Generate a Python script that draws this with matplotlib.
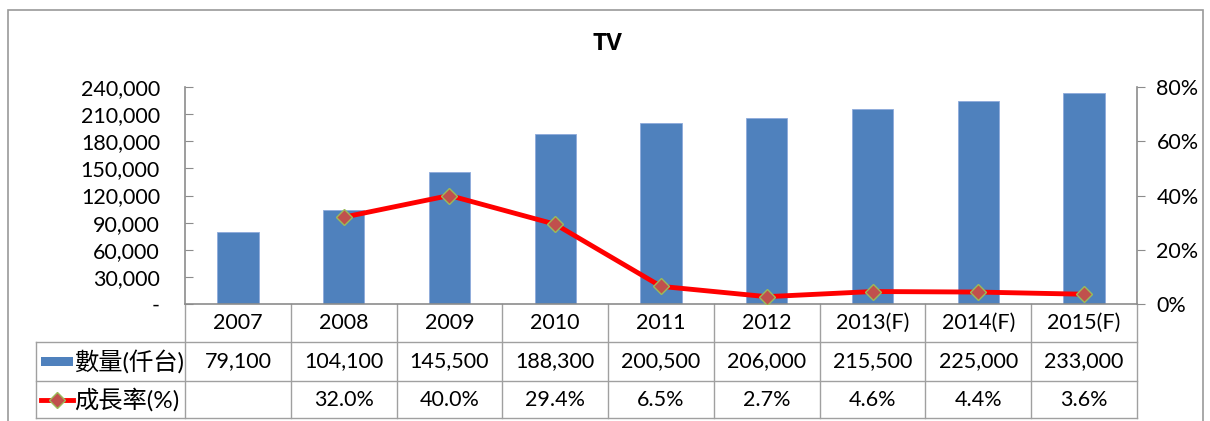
import matplotlib
matplotlib.use('Agg')
import matplotlib.pyplot as plt
import matplotlib.transforms as mtransforms
from matplotlib.patches import Rectangle
from matplotlib.lines import Line2D
from matplotlib.ticker import FuncFormatter, MultipleLocator

plt.rcParams['font.family'] = ['Lato', 'Noto Sans CJK TC', 'DejaVu Sans']

# data
years = ['2007', '2008', '2009', '2010', '2011', '2012', '2013(F)', '2014(F)', '2015(F)']
volume = [79100, 104100, 145500, 188300, 200500, 206000, 215500, 225000, 233000]
growth = [None, 32.0, 40.0, 29.4, 6.5, 2.7, 4.6, 4.4, 3.6]
title = 'TV'
volume_label = '數量(仟台)'
growth_label = '成長率(%)'

bar_color = '#4F81BD'
line_color = '#FF0000'
marker_face = '#C0504D'
marker_edge = '#9BBB59'
grid_gray = '#8C8C8C'
fs = 15.5

fig = plt.figure(figsize=(12.1, 4.21), dpi=100)
fig.patches.append(Rectangle((8 / 1210, -0.1), 1195 / 1210, 1.1 - 10 / 421,
                             transform=fig.transFigure, fill=False,
                             edgecolor='#9A9A9A', linewidth=1.2))
fig.text(0.5017, 1 - 44 / 421, title, ha='center', va='center',
         fontsize=17.5, fontweight='bold', family=['Open Sans', 'DejaVu Sans'])

ax = fig.add_axes([185 / 1210, (421 - 304) / 421, 952 / 1210, 217 / 421])
x = list(range(len(years)))
ax.bar(x, volume, width=0.39, color=bar_color, edgecolor='#8EAADB', linewidth=0.6, zorder=2)
ax.set_xlim(-0.5, len(years) - 0.5)
ax.set_ylim(0, 240000)
ax.yaxis.set_major_locator(MultipleLocator(30000))
ax.yaxis.set_major_formatter(FuncFormatter(lambda v, p: '-' if v == 0 else f'{int(v):,}'))
ax.tick_params(axis='y', direction='in', length=6, color=grid_gray, labelsize=fs, pad=18)
ax.set_xticks([])
for s in ['top', 'right']:
    ax.spines[s].set_visible(False)
for s in ['left', 'bottom']:
    ax.spines[s].set_color(grid_gray)
    ax.spines[s].set_linewidth(1.2)

ax2 = ax.twinx()
gx = [i for i, g in zip(x, growth) if g is not None]
gy = [g / 100 for g in growth if g is not None]
ax2.plot(gx, gy, color=line_color, lw=3.5, marker='D', ms=8,
         mfc=marker_face, mec=marker_edge, mew=1, zorder=3)
ax2.set_ylim(0, 0.8)
ax2.yaxis.set_major_locator(MultipleLocator(0.2))
ax2.yaxis.set_major_formatter(FuncFormatter(lambda v, p: f'{v * 100:.0f}%'))
ax2.tick_params(axis='y', direction='out', length=6, color=grid_gray, labelsize=fs, pad=8)
for s in ['top', 'left', 'bottom']:
    ax2.spines[s].set_visible(False)
ax2.spines['right'].set_color(grid_gray)
ax2.spines['right'].set_linewidth(1.2)

# data table below the axes
tr = mtransforms.blended_transform_factory(ax.transData, ax.transAxes)
row_edges = [0, -0.175, -0.355, -0.527]
left_edge = -1.909
tcolor = '#A0A0A0'

def hline(x0, x1, y):
    ax.add_line(Line2D([x0, x1], [y, y], transform=tr, color=tcolor, lw=1, clip_on=False))

def vline(xv, y0, y1):
    ax.add_line(Line2D([xv, xv], [y0, y1], transform=tr, color=tcolor, lw=1, clip_on=False))

hline(left_edge, len(years) - 0.5, row_edges[1])
hline(left_edge, len(years) - 0.5, row_edges[2])
hline(left_edge, len(years) - 0.5, row_edges[3])
for i in range(len(years) + 1):
    vline(i - 0.5, row_edges[0], row_edges[3])
vline(left_edge, row_edges[1], row_edges[3])

for i, yr in enumerate(years):
    ymid = (row_edges[0] + row_edges[1]) / 2
    ax.text(i, ymid, yr, transform=tr, ha='center', va='center', fontsize=fs, clip_on=False)
    ymid = (row_edges[1] + row_edges[2]) / 2
    ax.text(i, ymid, f'{volume[i]:,}', transform=tr, ha='center', va='center', fontsize=fs, clip_on=False)
    if growth[i] is not None:
        ymid = (row_edges[2] + row_edges[3]) / 2
        ax.text(i, ymid, f'{growth[i]:.1f}%', transform=tr, ha='center', va='center', fontsize=fs, clip_on=False)

# legend keys in the table
y2 = (row_edges[1] + row_edges[2]) / 2
y3 = (row_edges[2] + row_edges[3]) / 2
ax.add_patch(Rectangle((-1.862, y2 - 0.023), 0.303, 0.046, transform=tr,
                       facecolor=bar_color, edgecolor='none', clip_on=False))
ax.add_line(Line2D([-1.862, -1.559], [y3, y3], transform=tr, color=line_color, lw=3.5, clip_on=False))
ax.add_line(Line2D([-1.71], [y3], transform=tr, marker='D', ms=8, mfc=marker_face,
                   mec=marker_edge, mew=1, clip_on=False))
ax.text(-1.549, y2, volume_label, transform=tr, ha='left', va='center', fontsize=17.5, clip_on=False)
ax.text(-1.549, y3, growth_label, transform=tr, ha='left', va='center', fontsize=17.5, clip_on=False)

fig.savefig('out.png', dpi=100)
